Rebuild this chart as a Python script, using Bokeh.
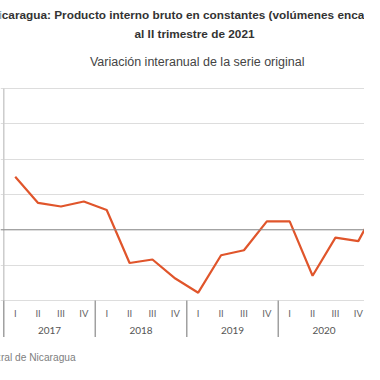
from bokeh.plotting import figure
from bokeh.models import FixedTicker, Span, Label, Range1d, Grid, ColumnDataSource
from bokeh.core.properties import value
from bokeh.embed import file_html
from bokeh.resources import INLINE

# ---- data ----
years = ["2017", "2018", "2019", "2020"]
quarters = ["I", "II", "III", "IV"]
period_index = list(range(17))  # 2017 I ... 2021 I
growth = [7.5, 3.8, 3.3, 4.0,
          2.8, -4.7, -4.2, -6.9,
          -8.9, -3.6, -2.9, 1.2,
          1.2, -6.5, -1.1, -1.6,
          4.4]
y_ticks = [-10, -5, 0, 5, 10, 15, 20]

title_1 = "Nicaragua: Producto interno bruto en constantes (volúmenes encadenados)"
title_2 = "al II trimestre de 2021"
subtitle = "Variación interanual de la serie original"
source_txt = "Fuente: Banco Central de Nicaragua"

# whole figure is the frame: value range 20..-10 occupies 212 px (y = 88..300)
W, H = 364, 364
px_per_unit = 212 / 30.0
zero_px = 229.3
y_top = zero_px / px_per_unit
y_bot = -(H - zero_px) / px_per_unit

p = figure(width=W, height=H, output_backend="svg", toolbar_location=None,
           x_range=Range1d(-0.643, 15.27), y_range=Range1d(y_bot, y_top),
           x_axis_location=None, y_axis_location=None,
           min_border_left=0, min_border_right=0, min_border_top=0, min_border_bottom=0)
p.title.visible = False
p.outline_line_color = None
p.xgrid.grid_line_color = None
p.ygrid.grid_line_color = None
p.background_fill_color = "white"
p.border_fill_color = "white"

y_min, y_max = min(y_ticks), max(y_ticks)
n_q = len(years) * len(quarters)
q_x = list(range(n_q))
q_text = [quarters[i % 4] for i in q_x]
sep = [-0.5 + 4 * k for k in range(len(years) + 1)]
y_centers = [1.5 + 4 * k for k in range(len(years))]

p.add_layout(Grid(dimension=1, ticker=FixedTicker(ticks=y_ticks), grid_line_color="#dddddd", grid_line_width=1))
# value axis line on the left edge of the chart
p.segment(x0=[sep[0]], y0=[y_min], x1=[sep[0]], y1=[y_max], line_color="#cccccc", line_width=1.5)
p.add_layout(Span(location=0, dimension="width", line_color="#8a8a8a", line_width=1))

src = ColumnDataSource(dict(x=period_index, y=growth))
p.line("x", "y", source=src, line_color="#E0552B", line_width=2.2)

# category axis drawn in data space below the value range
y_q = y_min - 12.7 / px_per_unit
y_year = y_min - 30.0 / px_per_unit
y_sep_end = y_min - 36.5 / px_per_unit

p.segment(x0=sep, y0=[y_min] * len(sep), x1=sep, y1=[y_sep_end] * len(sep),
          line_color="#a0a0a0", line_width=1.5)
p.text(x=q_x, y=[y_q] * n_q, text=q_text, text_font=value("Lato"), text_font_size="9.5px",
       text_color="#666666", text_align="center", text_baseline="middle")
p.text(x=y_centers, y=[y_year] * len(years), text=years, text_font=value("Lato"),
       text_font_size="10px", text_color="#555555", text_align="center", text_baseline="middle")

p.add_layout(Label(x=-10.5, y=H - 14, x_units="screen", y_units="screen", text=title_1,
                   text_font="Liberation Sans", text_font_style="bold", text_font_size="11.8px",
                   text_color="#333333", text_align="left", text_baseline="middle"))
p.add_layout(Label(x=194, y=H - 33, x_units="screen", y_units="screen", text=title_2,
                   text_font="Liberation Sans", text_font_style="bold", text_font_size="11.8px",
                   text_color="#333333", text_align="center", text_baseline="middle"))
p.add_layout(Label(x=196.7, y=H - 61, x_units="screen", y_units="screen", text=subtitle,
                   text_font="Liberation Sans", text_font_size="12.5px",
                   text_color="#444444", text_align="center", text_baseline="middle"))
p.add_layout(Label(x=-90.2, y=7, x_units="screen", y_units="screen", text=source_txt,
                   text_font="Liberation Sans", text_font_size="10.2px",
                   text_color="#808080", text_align="left", text_baseline="middle"))

open("out.html", "w").write(file_html(p, INLINE))
